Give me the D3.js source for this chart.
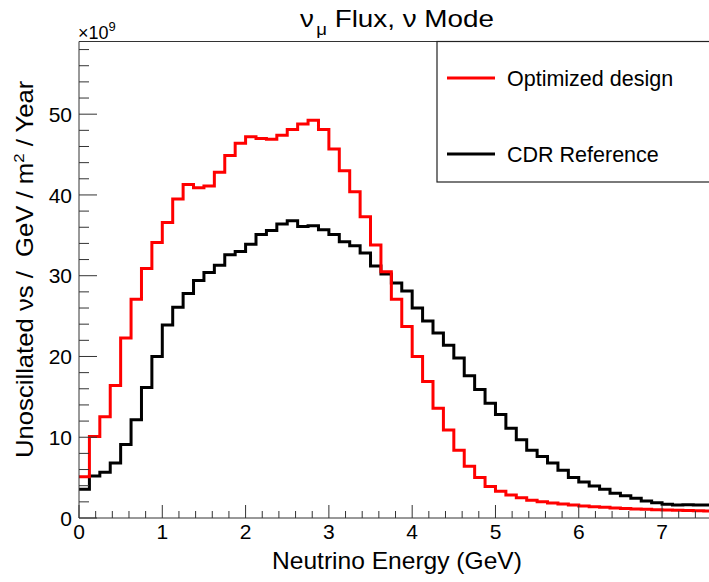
<!DOCTYPE html>
<html>
<head>
<meta charset="utf-8">
<script src="https://cdn.jsdelivr.net/npm/d3@7"></script>
<style>
  html, body { margin: 0; padding: 0; background: #fff; }
  svg { display: block; }
  text { font-family: "Liberation Sans", Arial, Helvetica, sans-serif; fill: #000; }
</style>
</head>
<body>
<svg id="chart" width="709" height="582"></svg>
<script>
// ---------------- data ----------------
const binWidth = 0.125;   // GeV
const optimizedDesign = [
  5.1, 10.1, 12.55, 16.4, 22.3, 27.1, 30.9, 34.1, 36.6, 39.5,
  41.3, 40.9, 41.1, 42.8, 44.9, 46.4, 47.2, 47.0, 46.9, 47.4,
  48.1, 48.8, 49.25, 48.1, 45.7, 43.0, 40.4, 37.3, 33.8, 30.5,
  27.1, 23.7, 20.0, 16.9, 13.6, 10.9, 8.4, 6.4, 5.0, 3.9,
  3.3, 2.85, 2.5, 2.2, 2.0, 1.86, 1.73, 1.6, 1.49, 1.4,
  1.32, 1.24, 1.18, 1.12, 1.08, 1.03, 0.99, 0.96, 0.93, 0.89,
  0.87
];
const cdrReference = [
  3.55, 5.2, 5.65, 6.8, 9.1, 12.15, 16.15, 20.0, 23.9, 26.1,
  27.8, 29.4, 30.4, 31.3, 32.6, 33.0, 33.9, 35.1, 35.6, 36.4,
  36.8, 36.1, 36.2, 35.7, 35.1, 34.2, 33.7, 32.8, 31.2, 30.2,
  29.1, 28.1, 26.0, 24.4, 22.9, 21.4, 19.8, 17.6, 15.9, 14.2,
  12.8, 11.1, 9.7, 8.4, 7.6, 6.8, 5.9, 5.0, 4.45, 3.95,
  3.55, 3.05, 2.75, 2.45, 2.1, 1.9, 1.7, 1.6, 1.65, 1.6,
  1.6
];
const xTickValues = [0, 1, 2, 3, 4, 5, 6, 7];
const yTickValues = [0, 10, 20, 30, 40, 50];
const seriesNames = ["Optimized design", "CDR Reference"];
const seriesColors = ["#ff0000", "#000000"];

// ---------------- layout ----------------
const svg = d3.select("#chart");
const pL = 79, pR = 716.2, pT = 41.5, pB = 518;
const x = d3.scaleLinear().domain([0, 7.65]).range([pL, pR]);
const y = d3.scaleLinear().domain([0, 59.0]).range([pB, pT]);
const axisColor = "#333";

function fitWidth(sel, target, ax, ay, rotate) {
  const w = sel.node().getBBox().width;
  const s = target / w;
  if (rotate) {
    sel.attr("transform", `translate(${ax},${ay}) rotate(-90) scale(${s},1)`);
  } else {
    sel.attr("transform", `translate(${ax},${ay}) scale(${s},1)`);
  }
}

// clip
svg.append("defs").append("clipPath").attr("id", "plotclip")
  .append("rect").attr("x", pL).attr("y", pT).attr("width", pR - pL).attr("height", pB - pT);

// ---------------- histograms ----------------
const stepLine = d3.line()
  .x(d => x(d[0]))
  .y(d => y(d[1]))
  .curve(d3.curveStepAfter);

function histPoints(vals) {
  const pts = vals.map((v, i) => [i * binWidth, v]);
  pts.push([vals.length * binWidth, vals[vals.length - 1]]);
  return pts;
}

const g = svg.append("g").attr("clip-path", "url(#plotclip)");
g.append("path").datum(histPoints(cdrReference))
  .attr("d", stepLine).attr("fill", "none")
  .attr("stroke", seriesColors[1]).attr("stroke-width", 3).attr("stroke-linejoin", "miter");
g.append("path").datum(histPoints(optimizedDesign))
  .attr("d", stepLine).attr("fill", "none")
  .attr("stroke", seriesColors[0]).attr("stroke-width", 3).attr("stroke-linejoin", "miter");

// ---------------- axes ----------------
const xAxis = svg.append("g").attr("transform", `translate(0,${pB})`);
xAxis.append("line").attr("x1", pL).attr("x2", pR + 10).attr("y1", 0).attr("y2", 0)
  .attr("stroke", axisColor).attr("stroke-width", 1);
const xMinor = d3.range(0, 7.65, 0.2).filter(v => Math.abs(v - Math.round(v)) > 1e-6);
xAxis.selectAll("line.minor").data(xMinor).join("line").attr("class", "minor")
  .attr("x1", d => x(d)).attr("x2", d => x(d)).attr("y1", 0).attr("y2", -7)
  .attr("stroke", axisColor).attr("stroke-width", 1);
xAxis.selectAll("line.major").data(xTickValues).join("line").attr("class", "major")
  .attr("x1", d => x(d)).attr("x2", d => x(d)).attr("y1", 0).attr("y2", -13)
  .attr("stroke", axisColor).attr("stroke-width", 1);
xAxis.selectAll("text.tl").data(xTickValues).join("text").attr("class", "tl")
  .attr("x", d => x(d)).attr("y", 21).attr("text-anchor", "middle")
  .attr("font-size", 21).text(d => d);

const yAxis = svg.append("g");
yAxis.append("line").attr("x1", pL).attr("x2", pL).attr("y1", pT).attr("y2", pB)
  .attr("stroke", axisColor).attr("stroke-width", 1);
const yMinor = d3.range(0, 59, 2).filter(v => v % 10 !== 0);
yAxis.selectAll("line.minor").data(yMinor).join("line").attr("class", "minor")
  .attr("x1", pL).attr("x2", pL + 10).attr("y1", d => y(d)).attr("y2", d => y(d))
  .attr("stroke", axisColor).attr("stroke-width", 1);
yAxis.selectAll("line.major").data(yTickValues).join("line").attr("class", "major")
  .attr("x1", pL).attr("x2", pL + 18).attr("y1", d => y(d)).attr("y2", d => y(d))
  .attr("stroke", axisColor).attr("stroke-width", 1);
yAxis.selectAll("text.tl").data(yTickValues).join("text").attr("class", "tl")
  .attr("x", 72).attr("y", d => y(d)).attr("dy", "0.36em").attr("text-anchor", "end")
  .attr("font-size", 21).text(d => d);

svg.append("line").attr("x1", pL).attr("x2", 709).attr("y1", pT).attr("y2", pT)
  .attr("stroke", axisColor).attr("stroke-width", 1);

const expo = svg.append("text").attr("x", 78).attr("y", 38.5).attr("font-size", 18);
expo.append("tspan").text("\u00d710");
expo.append("tspan").attr("font-size", 13).attr("dy", -8).text("9");

// ---------------- titles ----------------
const title = svg.append("text").attr("font-size", 24);
title.append("tspan").text("\u03bd");
title.append("tspan").attr("font-size", 16).attr("dy", 8).attr("dx", 2).text("\u03bc");
title.append("tspan").attr("dy", -8).text(" Flux, \u03bd Mode");
fitWidth(title, 194, 300, 26.7, false);

const xTitle = svg.append("text").attr("font-size", 24).attr("x", 0).attr("y", 0)
  .text("Neutrino Energy (GeV)");
fitWidth(xTitle, 250, 272, 569, false);

const yTitle = svg.append("text").attr("font-size", 23).attr("x", 0).attr("y", 0)
  .style("white-space", "pre");
yTitle.append("tspan").text("Unoscillated \u03bds /  GeV / m");
yTitle.append("tspan").attr("font-size", 15).attr("dy", -9).text("2");
yTitle.append("tspan").attr("dy", 9).text(" / Year");
fitWidth(yTitle, 378, 33, 458, true);

// ---------------- legend ----------------
const lg = svg.append("g");
lg.append("rect").attr("x", 437).attr("y", pT).attr("width", 300).attr("height", 182 - pT)
  .attr("fill", "#fff").attr("stroke", "#222").attr("stroke-width", 1.2);
const legY = [78, 154];
seriesNames.forEach((name, i) => {
  lg.append("line").attr("x1", 447).attr("x2", 495).attr("y1", legY[i]).attr("y2", legY[i])
    .attr("stroke", seriesColors[i]).attr("stroke-width", 3);
  lg.append("text").attr("x", 507).attr("y", legY[i]).attr("dy", "0.36em")
    .attr("font-size", 21.5).text(name);
});
</script>
</body>
</html>
